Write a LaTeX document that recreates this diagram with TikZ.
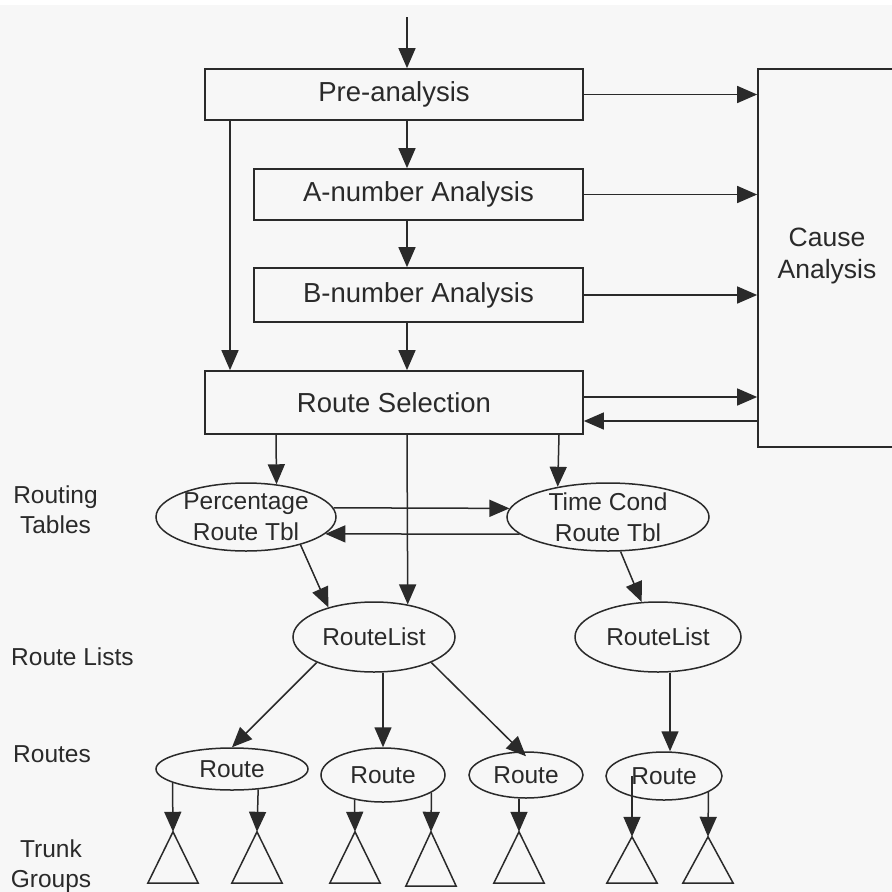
\documentclass[tikz,border=0pt]{standalone}
\usepackage{fontspec}
\setmainfont{Liberation Sans}
\usetikzlibrary{shapes.geometric,arrows.meta,calc}

\definecolor{paper}{HTML}{F7F7F7}
\definecolor{ink}{HTML}{2A2A2A}

\begin{document}
\begin{tikzpicture}[x=1pt,y=-1pt,
  box/.style={draw=ink,text=ink,line width=1.7pt,rectangle,inner sep=0pt,
    font=\fontsize{27.5}{32}\selectfont},
  oval/.style={draw=ink,line width=1.5pt,ellipse,inner sep=0pt},
  oname/.style={text=ink,inner sep=0pt,align=center,font=\fontsize{24.5}{31}\selectfont},
  side/.style={text=ink,inner sep=0pt,align=center,font=\fontsize{24.5}{30}\selectfont},
  tri/.style={inner sep=0pt,minimum width=50pt},
  arr/.style={draw=ink,line width=1.5pt,-{Triangle[length=20pt,width=17pt]}},
  plain/.style={draw=ink,line width=1.5pt}]

% canvas
\useasboundingbox (0,0) rectangle (892,892);
\fill[paper] (0,0) rectangle (892,892);
\fill[white] (0,0) rectangle (892,5);
\clip (0,0) rectangle (892,892);

% processing stages
\node[box,minimum width=378pt,minimum height=51pt] (pre)  at (394,94.5)  {Pre-analysis};
\node[box,minimum width=329pt,minimum height=51pt] (anum) at (418.5,194.5) {A-number Analysis};
\node[box,minimum width=329pt,minimum height=54pt] (bnum) at (418.5,295) {B-number Analysis};
\node[box,minimum width=378pt,minimum height=63pt] (rsel) at (394,402.5) {Route Selection};
\node[box,minimum width=202pt,minimum height=378pt] (cause) at (859,258) {};
\node[side,font=\fontsize{26.5}{32}\selectfont] (causetext) at (827,256) {Cause\\Analysis};

% routing tables
\node[oval,minimum width=180pt,minimum height=68pt] (pct) at (246,517) {};
\node[oname] (pcttext) at (pct) {Percentage\\Route Tbl};
\node[oval,minimum width=202pt,minimum height=68pt] (tc) at (608,517) {};
\node[oname] (tctext) at (tc) {Time Cond\\Route Tbl};

% route lists
\node[oval,minimum width=162pt,minimum height=70pt] (rl1) at (374,637) {};
\node[oname] (rl1text) at (rl1) {RouteList};
\node[oval,minimum width=166pt,minimum height=70pt] (rl2) at (658,637) {};
\node[oname] (rl2text) at (rl2) {RouteList};

% routes
\node[oval,minimum width=152pt,minimum height=42pt] (r1) at (232,769) {};
\node[oname] (r1text) at (r1) {Route};
\node[oval,minimum width=124pt,minimum height=54pt] (r2) at (383,775) {};
\node[oname] (r2text) at (r2) {Route};
\node[oval,minimum width=114pt,minimum height=46pt] (r3) at (526,775) {};
\node[oname] (r3text) at (r3) {Route};
\node[oval,minimum width=116pt,minimum height=48pt] (r4) at (664,776) {};
\node[oname] (r4text) at (r4) {Route};

% trunk groups
\node[tri,minimum height=51pt] (t1) at (173,857.5) {};
\node[tri,minimum height=51pt] (t2) at (257,857.5) {};
\node[tri,minimum height=51pt] (t3) at (355,857.5) {};
\node[tri,minimum height=54pt] (t4) at (431,859) {};
\node[tri,minimum height=51pt] (t5) at (519,857.5) {};
\node[tri,minimum height=46pt] (t6) at (632,860) {};
\node[tri,minimum height=46pt] (t7) at (708,860) {};
\foreach \t in {t1,t2,t3,t4,t5,t6,t7}
  \draw[plain] (\t.north) -- (\t.south east) -- (\t.south west) -- cycle;

% level labels
\node[side] (lbltables) at (55.5,510) {Routing\\Tables};
\node[side,anchor=west] (lbllists) at (11,657) {Route Lists};
\node[side,anchor=west] (lblroutes) at (13,754) {Routes};
\node[side] (lbltrunk) at (51,866) {Trunk\\Groups};

% main flow
\coordinate (src) at (407,17);
\draw[arr] (src) -- (src |- pre.north);
\draw[arr] (pre.south -| src) -- (anum.north -| src);
\draw[arr] (anum.south -| src) -- (bnum.north -| src);
\draw[arr] (bnum.south -| src) -- (rsel.north -| src);
\draw[arr] ([xshift=-164pt]pre.south) -- ([xshift=-164pt]rsel.north);

% links to cause analysis
\draw[arr] (pre.east) -- (pre.east -| cause.west);
\draw[arr] (anum.east) -- (anum.east -| cause.west);
\draw[arr] (bnum.east) -- (bnum.east -| cause.west);
\draw[arr] ($(rsel.east)+(0,-5.5)$) -- ($(rsel.east -| cause.west)+(0,-5.5)$);
\draw[arr] ($(rsel.east -| cause.west)+(0,18.5)$) -- ($(rsel.east)+(0,18.5)$);

% route selection to tables and lists
\draw[arr] ([xshift=-118pt]rsel.south) -- (pct.47);
\draw[arr] ([xshift=13pt]rsel.south) -- (rl1.44);
\draw[arr] ([xshift=165pt]rsel.south) -- (tc.149);
\draw[arr] (pct.6) -- (tc.175);
\draw[arr] (tc.191) -- (pct.-12);
\draw[arr] (pct.-27) -- (rl1.147);
\draw[arr] (tc.-70) -- (rl2.115);

% lists to routes
\draw[arr] (rl1.204) -- (r1.north);
\draw[arr] (rl1.south -| r2.north) -- (r2.north);
\draw[arr] (rl1.-24) -- ([yshift=-5pt]r3.north);
\draw[arr] ([xshift=12pt]rl2.south) -- ([xshift=12pt]rl2.south |- r4.north);

% routes to trunk groups
\draw[arr] (r1.193) -- (t1.north);
\draw[arr] (r1.-38) -- (t2.north);
\draw[arr] (r2.221) -- (t3.north);
\draw[arr] (r2.-20) -- (t4.north);
\draw[arr] (r3.south -| t5.north) -- (t5.north);
\draw[arr] (r4.center -| t6.north) -- (t6.north);
\draw[arr] (r4.-20) -- (t7.north);
\end{tikzpicture}
\end{document}
